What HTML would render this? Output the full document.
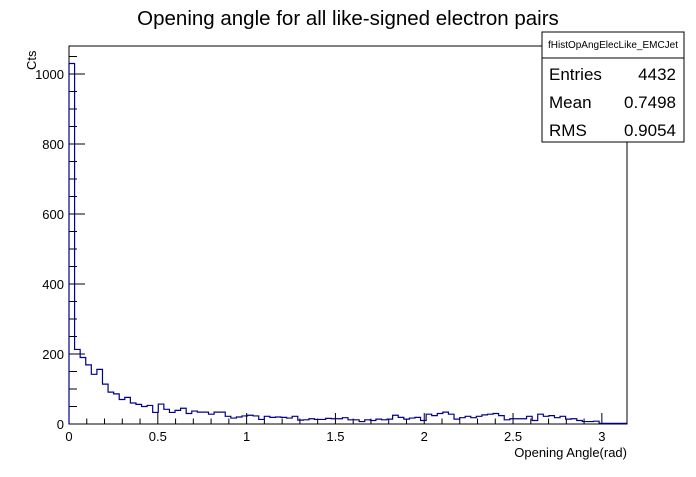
<!DOCTYPE html>
<html><head><meta charset="utf-8"><style>
body{margin:0;background:#fff;font-family:"Liberation Sans",sans-serif}
svg text{font-family:"Liberation Sans",sans-serif}
</style></head><body>
<svg id="c" width="696" height="472" xmlns="http://www.w3.org/2000/svg">
<rect width="696" height="472" fill="#fff"/>
<text x="348" y="25" font-size="20.5" text-anchor="middle">Opening angle for all like-signed electron pairs</text>
<rect x="69" y="46" width="558" height="378" fill="none" stroke="#000"/>
<g id="ticks"></g>
<path id="hist" fill="none" stroke="#00008b" stroke-width="1.2"/>
<text x="627" y="457" font-size="13" text-anchor="end">Opening Angle(rad)</text>
<text transform="translate(36,70) rotate(-90)" font-size="13">Cts</text>
<g>
<rect x="542" y="32" width="142" height="110" fill="#fff" stroke="#000"/>
<line x1="542" y1="58" x2="684" y2="58" stroke="#000"/>
<text x="613" y="48" font-size="10" text-anchor="middle">fHistOpAngElecLike_EMCJet</text>
<text x="549" y="80" font-size="17">Entries</text><text x="676" y="80" font-size="17" text-anchor="end">4432</text>
<text x="549" y="108" font-size="17">Mean</text><text x="676" y="108" font-size="17" text-anchor="end">0.7498</text>
<text x="549" y="136" font-size="17">RMS</text><text x="676" y="136" font-size="17" text-anchor="end">0.9054</text>
</g>
</svg>
<script>
const counts=[1030,213,190,169,142,156,114,91,86,70,76,60,56,50,53,33,57,42,33,39,45,30,37,34,34,28,34,34,22,17,20,23,25,23,13,22,19,20,19,17,22,11,12,15,13,13,16,15,15,18,12,12,7,12,10,14,12,14,25,19,14,17,19,10,28,24,30,34,28,14,18,22,18,22,26,28,30,24,12,15,15,15,22,10,28,22,24,18,22,14,15,10,7,7,8,2,2,2,2,2];
const xTicks=[0,0.5,1,1.5,2,2.5,3];
const xTickLabels=["0","0.5","1","1.5","2","2.5","3"];
const yTicks=[0,200,400,600,800,1000];
const yTickLabels=["0","200","400","600","800","1000"];
const xMin=0,xMax=Math.PI,yMin=0,yMax=1080;
const X=v=>69+(v-xMin)/(xMax-xMin)*558;
const Y=v=>424-(v-yMin)/(yMax-yMin)*378;
const NS="http://www.w3.org/2000/svg";
const g=document.getElementById('ticks');
function line(x1,y1,x2,y2,name){const l=document.createElementNS(NS,'line');l.setAttribute('x1',x1);l.setAttribute('y1',y1);l.setAttribute('x2',x2);l.setAttribute('y2',y2);l.setAttribute('stroke','#000');


g.appendChild(l);}
function txt(x,y,s,anchor,name){const t=document.createElementNS(NS,'text');t.setAttribute('x',x);t.setAttribute('y',y);t.setAttribute('font-size','13');t.setAttribute('text-anchor',anchor);t.textContent=s;


g.appendChild(t);}
for(let v=0;v<=3.1;v+=0.1){const major=Math.abs(v*2-Math.round(v*2))<1e-6;line(X(v),424,X(v),424-(major?11:5.5),'x-tick');}
xTicks.forEach((v,i)=>txt(X(v),441,xTickLabels[i],'middle','x-tick-label'));
for(let v=0;v<=1075;v+=50){const major=v%200===0;line(69,Y(v),69+(major?16:8),Y(v),'y-tick');}
yTicks.forEach((v,i)=>txt(64,Y(v)+5,yTickLabels[i],'end','y-tick-label'));
const w=(xMax-xMin)/counts.length;
let d='M'+X(0)+','+Y(0);
counts.forEach((c,i)=>{d+=' L'+X(i*w)+','+Y(c)+' L'+X((i+1)*w)+','+Y(c);});
d+=' L'+X(xMax)+','+Y(0);
document.getElementById('hist').setAttribute('d',d);
</script>
</body></html>
